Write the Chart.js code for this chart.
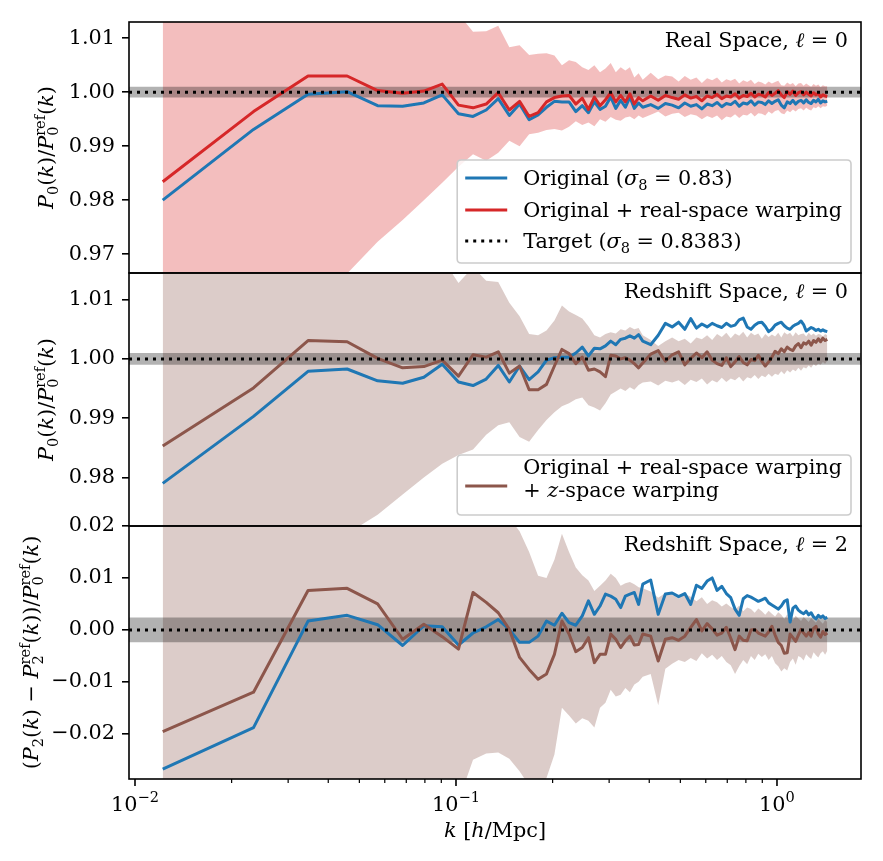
<!DOCTYPE html>
<html><head><meta charset="utf-8">
<script src="https://cdn.jsdelivr.net/npm/chart.js@4/dist/chart.umd.min.js"></script>
<style>
html,body{margin:0;padding:0;background:#fff;}
#wrap{position:relative;width:883px;height:861px;background:#fff;}
#wrap canvas{position:absolute;left:0;top:0;}
</style></head><body>
<div id="wrap">
<canvas id="c1" width="883" height="861"></canvas>
<canvas id="c2" width="883" height="861"></canvas>
<canvas id="c3" width="883" height="861"></canvas>
</div>
<script>
// ---------------- data ----------------
const K_BINS = [
0.0122,0.0234,0.0346,0.0458,0.0570,0.0682,0.0794,0.0906,0.1018,0.1130,
0.1242,0.1354,0.1466,0.1578,0.1690,0.1802,0.1914,0.2026,0.2138,0.2250,
0.2362,0.2474,0.2586,0.2698,0.2810,0.2922,0.3034,0.3146,0.3258,0.3370,
0.3482,0.3594,0.3706,0.3818,
0.4042,0.4266,0.4490,0.4714,0.4938,0.5162,0.5386,0.5610,0.5834,0.6058,
0.6282,0.6506,0.6730,0.6954,0.7178,0.7402,0.7626,0.7850,0.8074,0.8298,
0.8522,0.8746,0.8970,0.9194,0.9418,0.9642,0.9866,1.0090,1.0314,1.0538,
1.0762,1.0986,1.1210,1.1434,1.1658,1.1882,1.2106,1.2330,1.2554,1.2778,
1.3002,1.3226,1.3450,1.3674,1.3898,1.4122,1.4346];

// Panel 1: real space, monopole ratio
const P1_ORIG = [
0.9800,0.9931,0.9996,1.0001,0.9975,0.9974,0.9980,0.9995,0.9960,0.9955,
0.9967,0.9988,0.9957,0.9978,0.9949,0.9958,0.9972,0.9983,0.9982,0.9982,
0.9964,0.9975,0.9962,0.9982,0.9968,0.9974,0.9991,0.9970,0.9985,0.9972,
0.9991,0.9970,0.9980,0.9972,
0.9977,0.9970,0.9979,0.9976,0.9971,0.9980,0.9974,0.9977,0.9969,0.9978,
0.9975,0.9981,0.9973,0.9979,0.9977,0.9983,0.9974,0.9980,0.9978,0.9984,
0.9976,0.9982,0.9981,0.9977,0.9984,0.9979,0.9983,0.9986,0.9976,0.9971,
0.9982,0.9979,0.9985,0.9978,0.9983,0.9985,0.9980,0.9986,0.9981,0.9979,
0.9985,0.9982,0.9987,0.9980,0.9984,0.9982,0.9983];
const P1_WARP = [
0.9834,0.9964,1.0030,1.0030,1.0003,0.9998,1.0002,1.0015,0.9976,0.9971,
0.9978,0.9999,0.9967,0.9983,0.9955,0.9962,0.9982,0.9990,0.9993,0.9994,
0.9978,0.9989,0.9968,0.9991,0.9975,0.9986,0.9999,0.9982,0.9994,0.9982,
0.9997,0.9978,0.9990,0.9984,
0.9993,0.9985,0.9994,0.9990,0.9987,0.9995,0.9989,0.9992,0.9984,0.9993,
0.9990,0.9996,0.9988,0.9993,0.9991,0.9997,0.9989,0.9994,0.9992,0.9998,
0.9991,0.9996,0.9995,0.9991,0.9999,0.9994,0.9998,1.0003,0.9995,0.9990,
1.0001,0.9996,1.0002,0.9994,0.9999,1.0001,0.9995,1.0000,0.9996,0.9993,
0.9999,0.9995,0.9998,0.9991,0.9995,0.9993,0.9992];
const P1_ERR_HI = [
1.060,1.050,1.040,1.035,1.030,1.025,1.022,1.018,1.0145,1.0112,
1.0113,1.0123,1.0083,1.0087,1.0069,1.0071,1.0072,1.0068,1.0050,1.0059,
1.0056,1.0046,1.0041,1.0050,1.0037,1.0044,1.0054,1.0037,1.0046,1.0040,
1.0046,1.0027,1.0035,1.0023,
1.0036,1.0024,1.0031,1.0029,1.0020,1.0030,1.0023,1.0027,1.0017,1.0026,
1.0022,1.0027,1.0018,1.0024,1.0021,1.0025,1.0016,1.0022,1.0019,1.0023,
1.0015,1.0020,1.0018,1.0014,1.0020,1.0016,1.0019,1.0021,1.0013,1.0012,
1.0018,1.0014,1.0017,1.0011,1.0016,1.0017,1.0012,1.0016,1.0013,1.0010,
1.0015,1.0012,1.0014,1.0009,1.0013,1.0011,1.0011];
const P1_ERR_LO = [
0.930,0.945,0.958,0.9664,0.9723,0.9763,0.9800,0.9832,0.9862,0.9885,
0.9873,0.9888,0.9910,0.9900,0.9922,0.9925,0.9930,0.9932,0.9929,0.9936,
0.9946,0.9939,0.9944,0.9937,0.9950,0.9945,0.9954,0.9949,0.9947,0.9953,
0.9955,0.9950,0.9957,0.9952,
0.9958,0.9964,0.9955,0.9960,0.9962,0.9954,0.9959,0.9957,0.9950,0.9956,
0.9952,0.9957,0.9948,0.9955,0.9953,0.9959,0.9952,0.9958,0.9957,0.9962,
0.9955,0.9961,0.9960,0.9957,0.9964,0.9960,0.9965,0.9967,0.9961,0.9959,
0.9966,0.9963,0.9968,0.9964,0.9969,0.9970,0.9966,0.9971,0.9968,0.9966,
0.9972,0.9970,0.9974,0.9970,0.9974,0.9973,0.9975];

// Panel 2: redshift space, monopole ratio
const P2_ORIG = [
0.9790,0.9903,0.9979,0.9983,0.9963,0.9959,0.9969,0.9991,0.9961,0.9955,
0.9966,0.9989,0.9961,0.9988,0.9965,0.9978,0.9998,1.0002,1.0003,1.0003,
1.0010,1.0020,1.0005,1.0018,1.0017,1.0022,1.0030,1.0024,1.0033,1.0035,
1.0039,1.0035,1.0041,1.0030,
1.0024,1.0040,1.0060,1.0054,1.0062,1.0050,1.0068,1.0052,1.0059,1.0054,
1.0060,1.0056,1.0053,1.0060,1.0055,1.0057,1.0066,1.0069,1.0054,1.0050,
1.0057,1.0061,1.0062,1.0055,1.0046,1.0050,1.0057,1.0060,1.0062,1.0056,
1.0052,1.0050,1.0055,1.0058,1.0060,1.0064,1.0058,1.0047,1.0050,1.0053,
1.0051,1.0048,1.0050,1.0047,1.0049,1.0047,1.0046];
const P2_WARP = [
0.9853,0.9951,1.0031,1.0029,1.0001,0.9985,0.9987,0.9998,0.9971,1.0007,
1.0003,1.0012,0.9976,0.9988,0.9948,0.9948,0.9957,0.9988,1.0016,1.0009,
0.9992,1.0003,0.9981,0.9983,0.9978,0.9970,1.0006,1.0005,1.0000,1.0002,
0.9998,0.9992,0.9985,0.9993,
1.0008,1.0014,0.9996,1.0007,1.0012,0.9990,1.0001,1.0010,1.0002,1.0012,
0.9998,0.9992,0.9989,1.0002,0.9987,0.9995,1.0004,0.9994,0.9990,0.9999,
0.9997,1.0006,0.9996,0.9988,0.9995,1.0003,1.0013,1.0009,1.0017,1.0012,
1.0020,1.0016,1.0014,1.0022,1.0026,1.0019,1.0027,1.0025,1.0030,1.0023,
1.0031,1.0028,1.0034,1.0029,1.0035,1.0031,1.0033];
const P2_ERR_HI = [
1.060,1.050,1.040,1.035,1.030,1.025,1.020,1.017,1.0128,1.0155,
1.0132,1.0130,1.0095,1.0072,1.0042,1.0040,1.0048,1.0065,1.0090,1.0080,
1.0074,1.0068,1.0055,1.0040,1.0036,1.0042,1.0045,1.0043,1.0050,1.0048,
1.0054,1.0050,1.0052,1.0040,
1.0032,1.0022,1.0030,1.0036,1.0030,1.0034,1.0026,1.0036,1.0033,1.0040,
1.0032,1.0042,1.0037,1.0044,1.0035,1.0043,1.0039,1.0046,1.0036,1.0044,
1.0040,1.0043,1.0034,1.0042,1.0037,1.0041,1.0038,1.0044,1.0036,1.0045,
1.0041,1.0044,1.0038,1.0045,1.0040,1.0042,1.0043,1.0038,1.0044,1.0040,
1.0043,1.0039,1.0042,1.0041,1.0038,1.0042,1.0040];
const P2_ERR_LO = [
0.930,0.950,0.960,0.9705,0.9737,0.9771,0.9800,0.9823,0.9838,0.9847,
0.9872,0.9888,0.9893,0.9868,0.9860,0.9880,0.9897,0.9910,0.9920,0.9925,
0.9932,0.9935,0.9922,0.9918,0.9913,0.9925,0.9940,0.9945,0.9950,0.9946,
0.9952,0.9948,0.9956,0.9960,
0.9962,0.9955,0.9963,0.9960,0.9964,0.9956,0.9965,0.9961,0.9967,0.9957,
0.9964,0.9960,0.9968,0.9961,0.9967,0.9964,0.9970,0.9962,0.9969,0.9967,
0.9973,0.9966,0.9972,0.9969,0.9975,0.9970,0.9975,0.9973,0.9979,0.9974,
0.9981,0.9977,0.9982,0.9979,0.9985,0.9980,0.9986,0.9984,0.9989,0.9985,
0.9991,0.9988,0.9992,0.9990,0.9995,0.9992,0.9997];

// Panel 3: redshift space, quadrupole difference
const P3_ORIG = [
-0.0268,-0.0188,0.0017,0.0028,0.0010,-0.0030,0.0008,0.0006,-0.0029,-0.0006,
0.0006,0.0020,0.0001,-0.0024,-0.0024,-0.0012,0.0017,0.0009,0.0032,0.0014,
0.0009,0.0027,0.0056,0.0030,0.0046,0.0069,0.0065,0.0059,0.0043,0.0065,
0.0069,0.0072,0.0049,0.0088,
0.0096,0.0030,0.0069,0.0071,0.0064,0.0070,0.0049,0.0086,0.0080,0.0094,
0.0100,0.0076,0.0084,0.0070,0.0062,0.0040,0.0028,0.0060,0.0066,0.0063,
0.0059,0.0055,0.0058,0.0061,0.0052,0.0048,0.0044,0.0040,0.0046,0.0055,
0.0058,0.0015,0.0042,0.0046,0.0038,0.0034,0.0031,0.0036,0.0029,0.0033,
0.0025,0.0021,0.0028,0.0024,0.0027,0.0022,0.0024];
const P3_WARP = [
-0.0196,-0.0120,0.0076,0.0080,0.0050,-0.0018,0.0011,-0.0013,-0.0037,0.0072,
0.0053,0.0033,0.0001,-0.0053,-0.0076,-0.0095,-0.0085,-0.0047,0.0017,-0.0008,
-0.0042,-0.0034,-0.0015,-0.0063,-0.0047,-0.0047,-0.0008,-0.0018,-0.0034,-0.0021,
-0.0012,-0.0029,-0.0028,-0.0008,
-0.0012,-0.0060,-0.0018,-0.0015,-0.0020,-0.0012,0.0005,0.0020,-0.0002,0.0012,
0.0002,-0.0010,-0.0006,0.0005,-0.0016,-0.0038,-0.0012,-0.0020,-0.0021,0.0000,
0.0001,-0.0006,-0.0009,-0.0012,-0.0004,0.0007,-0.0010,-0.0024,-0.0030,-0.0045,
-0.0044,-0.0008,-0.0015,-0.0022,-0.0010,0.0001,-0.0006,-0.0012,-0.0005,-0.0012,
0.0003,0.0007,-0.0008,-0.0014,-0.0003,-0.0009,-0.0006];
const P3_ERR_HI = [
0.060,0.050,0.045,0.040,0.035,0.032,0.030,0.028,0.027,0.026,
0.025,0.024,0.0215,0.0190,0.0150,0.0104,0.0100,0.0135,0.0185,0.0150,
0.0120,0.0105,0.0095,0.0075,0.0085,0.0095,0.0108,0.0100,0.0085,0.0090,
0.0092,0.0088,0.0082,0.0080,
0.0074,0.0062,0.0071,0.0068,0.0060,0.0069,0.0064,0.0055,0.0063,0.0050,
0.0057,0.0053,0.0045,0.0051,0.0044,0.0039,0.0047,0.0036,0.0043,0.0040,
0.0033,0.0041,0.0036,0.0029,0.0037,0.0031,0.0026,0.0034,0.0029,0.0021,
0.0030,0.0025,0.0019,0.0027,0.0022,0.0017,0.0025,0.0020,0.0015,0.0023,
0.0018,0.0014,0.0021,0.0016,0.0012,0.0019,0.0015];
const P3_ERR_LO = [
-0.070,-0.060,-0.050,-0.045,-0.040,-0.037,-0.034,-0.032,-0.033,-0.0250,
-0.0238,-0.0236,-0.0248,-0.0272,-0.0300,-0.0300,-0.0285,-0.0240,-0.0150,-0.0165,
-0.0180,-0.0170,-0.0175,-0.0188,-0.0150,-0.0140,-0.0115,-0.0128,-0.0125,-0.0112,
-0.0120,-0.0105,-0.0100,-0.0090,
-0.0085,-0.0145,-0.0075,-0.0065,-0.0058,-0.0062,-0.0054,-0.0060,-0.0045,-0.0055,
-0.0048,-0.0058,-0.0050,-0.0062,-0.0068,-0.0085,-0.0070,-0.0058,-0.0066,-0.0050,
-0.0058,-0.0046,-0.0052,-0.0047,-0.0058,-0.0050,-0.0064,-0.0070,-0.0080,-0.0074,
-0.0078,-0.0062,-0.0055,-0.0067,-0.0050,-0.0053,-0.0059,-0.0047,-0.0052,-0.0056,
-0.0043,-0.0049,-0.0053,-0.0045,-0.0041,-0.0048,-0.0040];

const TARGET_P0 = 1.0, TARGET_P2 = 0.0;
const TOL_P0 = 0.001, TOL_P2 = 0.0024;
const X_MIN = 0.009579, X_MAX = 1.827;
const Y1_RANGE = [0.9665, 1.0130];
const Y2_RANGE = [0.9718, 1.0145];
const Y3_RANGE = [-0.0287, 0.0200];
const Y1_TICKS = [0.97, 0.98, 0.99, 1.00, 1.01];
const Y2_TICKS = [0.98, 0.99, 1.00, 1.01];
const Y3_TICKS = [-0.02, -0.01, 0.00, 0.01, 0.02];
const X_MAJOR = [0.01, 0.1, 1];
const X_MINOR = [0.02,0.03,0.04,0.05,0.06,0.07,0.08,0.09,0.2,0.3,0.4,0.5,0.6,0.7,0.8,0.9];

// ---------------- styling ----------------
const BLUE = '#1f77b4', RED = '#d62728', BROWN = '#8c564b';
const SERIF = '"DejaVu Serif", serif';
const FS = 20.8;
Chart.defaults.font.family = SERIF;
Chart.defaults.font.size = FS;
Chart.defaults.color = '#000';

function fontStr(size, it){ return (it ? 'italic ' : '') + size + 'px ' + SERIF; }
function segWidth(ctx, seg, size){
  if (typeof seg === 'string'){ ctx.font = fontStr(size,false); return ctx.measureText(seg).width; }
  if (seg.t !== undefined){ ctx.font = fontStr(size, seg.it); return ctx.measureText(seg.t).width; }
  ctx.font = fontStr(size*0.7, false);
  return Math.max(seg.lo ? ctx.measureText(seg.lo).width : 0, seg.hi ? ctx.measureText(seg.hi).width : 0);
}
function richWidth(ctx, segs, size){ return segs.reduce((w,s)=>w+segWidth(ctx,s,size),0); }
function drawRich(ctx, segs, x, base, size, align){
  const w = richWidth(ctx, segs, size);
  let cx = align==='center' ? x - w/2 : (align==='right' ? x - w : x);
  ctx.textAlign = 'left'; ctx.textBaseline = 'alphabetic';
  for (const seg of segs){
    const sw = segWidth(ctx, seg, size);
    if (typeof seg === 'string'){ ctx.font = fontStr(size,false); ctx.fillText(seg, cx, base); }
    else if (seg.t !== undefined){ ctx.font = fontStr(size, seg.it); ctx.fillText(seg.t, cx, base); }
    else {
      ctx.font = fontStr(size*0.7, false);
      if (seg.lo) ctx.fillText(seg.lo, cx, base + size*0.22);
      if (seg.hi) ctx.fillText(seg.hi, cx, base - size*0.42);
    }
    cx += sw;
  }
}

const Y_LABEL_P0 = [{t:'P',it:true},{lo:'0'},'(',{t:'k',it:true},')/',{t:'P',it:true},{lo:'0',hi:'ref'},'(',{t:'k',it:true},')'];
const Y_LABEL_P2 = ['(',{t:'P',it:true},{lo:'2'},'(',{t:'k',it:true},') \u2212 ',{t:'P',it:true},{lo:'2',hi:'ref'},'(',{t:'k',it:true},'))/',{t:'P',it:true},{lo:'0',hi:'ref'},'(',{t:'k',it:true},')'];
const X_LABEL = [{t:'k',it:true},' [',{t:'h',it:true},'/Mpc]'];

function pts(arr){ return K_BINS.map((k,i)=>({x:k, y:arr[i]})); }
function hline(y){ return [{x:X_MIN, y:y},{x:X_MAX, y:y}]; }
const NONE = 'rgba(0,0,0,0)';

function panelDatasets(c){
  return [
    {label:'band_hi', data:pts(c.hi), borderColor:NONE, borderWidth:0, pointRadius:0, fill:'+1', backgroundColor:c.band, order:50},
    {label:'band_lo', data:pts(c.lo), borderColor:NONE, borderWidth:0, pointRadius:0, fill:false, order:50},
    {label:'tol_hi', data:hline(c.target+c.tol), borderColor:NONE, borderWidth:0, pointRadius:0, fill:'+1', backgroundColor:'rgba(0,0,0,0.3)', order:40},
    {label:'tol_lo', data:hline(c.target-c.tol), borderColor:NONE, borderWidth:0, pointRadius:0, fill:false, order:40},
    {label:'Original', data:pts(c.orig), borderColor:BLUE, borderWidth:3, pointRadius:0, fill:false, order:30, borderJoinStyle:'round'},
    {label:c.warpLabel, data:pts(c.warp), borderColor:c.warpColor, borderWidth:3, pointRadius:0, fill:false, order:20, borderJoinStyle:'round'},
    {label:'Target', data:hline(c.target), borderColor:'#000', borderWidth:3, borderDash:[3,5], pointRadius:0, fill:false, order:10}
  ];
}

function roundRect(ctx, x, y, w, h, r){
  ctx.beginPath();
  ctx.moveTo(x+r,y); ctx.lineTo(x+w-r,y); ctx.quadraticCurveTo(x+w,y,x+w,y+r);
  ctx.lineTo(x+w,y+h-r); ctx.quadraticCurveTo(x+w,y+h,x+w-r,y+h);
  ctx.lineTo(x+r,y+h); ctx.quadraticCurveTo(x,y+h,x,y+h-r);
  ctx.lineTo(x,y+r); ctx.quadraticCurveTo(x,y,x+r,y); ctx.closePath();
}

function drawLegend(chart, L){
  const ctx = chart.ctx, a = chart.chartArea;
  let maxW = 0;
  L.rows.forEach(r => r.lines.forEach(l => { maxW = Math.max(maxW, richWidth(ctx, l, FS)); }));
  const right = a.right - 10, bottom = a.bottom - L.gapBottom;
  const w = 8 + 42 + 16 + maxW + 9;
  const left = right - w, top = bottom - L.height;
  ctx.save();
  roundRect(ctx, left, top, w, L.height, 4);
  ctx.fillStyle = 'rgba(255,255,255,0.8)'; ctx.fill();
  ctx.strokeStyle = '#cccccc'; ctx.lineWidth = 1.6; ctx.stroke();
  L.rows.forEach(r => {
    const ds = chart.data.datasets[r.ds];
    ctx.strokeStyle = ds.borderColor; ctx.lineWidth = ds.borderWidth;
    ctx.setLineDash(ds.borderDash || []);
    ctx.beginPath(); ctx.moveTo(left+8, top+r.handleY); ctx.lineTo(left+50, top+r.handleY); ctx.stroke();
    ctx.setLineDash([]);
    ctx.fillStyle = '#000';
    r.lines.forEach((l,i) => drawRich(ctx, l, left+66, top+r.base[i], FS, 'left'));
  });
  ctx.restore();
}

const DECO = {};
const decoPlugin = {
  id: 'panelDeco',
  afterDatasetsDraw(chart){
    const o = DECO[chart.canvas.id];
    if (!o) return;
    const ctx = chart.ctx, a = chart.chartArea;
    ctx.save();
    if (o.legend) drawLegend(chart, o.legend);
    ctx.fillStyle = '#000';
    drawRich(ctx, o.note, a.right - 13, a.top + 25, FS, 'right');
    ctx.setLineDash([]);
    ctx.strokeStyle = '#000'; ctx.lineWidth = 1.6;
    ctx.strokeRect(a.left, a.top, a.right - a.left, a.bottom - a.top);
    ctx.save();
    ctx.translate(o.yLabelX, (a.top + a.bottom)/2);
    ctx.rotate(-Math.PI/2);
    drawRich(ctx, o.yLabel, 0, FS*0.3, FS, 'center');
    ctx.restore();
    if (o.bottom){
      const xs = chart.scales.x;
      X_MINOR.forEach(v => {
        const px = xs.getPixelForValue(v);
        ctx.lineWidth = 1.2; ctx.beginPath(); ctx.moveTo(px, a.bottom); ctx.lineTo(px, a.bottom+4); ctx.stroke();
      });
      X_MAJOR.forEach(v => {
        const px = xs.getPixelForValue(v);
        ctx.lineWidth = 1.6; ctx.beginPath(); ctx.moveTo(px, a.bottom); ctx.lineTo(px, a.bottom+7); ctx.stroke();
        const e = Math.round(Math.log10(v));
        const es = e < 0 ? '\u2212' + Math.abs(e) : String(e);
        drawRich(ctx, ['10', {hi: es}], px, a.bottom + 32, FS, 'center');
      });
      drawRich(ctx, X_LABEL, (a.left + a.right)/2, a.bottom + 58, FS, 'center');
    }
    ctx.restore();
  }
};

function fmt(v){ return v < -1e-9 ? '\u2212' + Math.abs(v).toFixed(2) : Math.abs(v).toFixed(2); }

function makeChart(id, datasets, yRange, yTicks, pad, deco, bottom){
  DECO[id] = Object.assign({bottom}, deco);
  return new Chart(document.getElementById(id), {
    type: 'line',
    data: { datasets },
    options: {
      responsive: false, animation: false, events: [],
      layout: { padding: { left: 0, right: 22, top: pad[0], bottom: pad[1] } },
      plugins: { legend: { display: false }, tooltip: { enabled: false } },
      scales: {
        x: { type: 'logarithmic', min: X_MIN, max: X_MAX, display: bottom,
             grid: { display: false }, border: { display: false }, ticks: { display: false },
             afterFit: s => { s.height = bottom ? 82 : 0; } },
        y: { type: 'linear', min: yRange[0], max: yRange[1],
             afterBuildTicks: s => { s.ticks = yTicks.map(v => ({ value: v })); },
             afterFit: s => { s.width = 129; },
             grid: { drawOnChartArea: false, drawTicks: true, tickLength: 7, tickWidth: 1.6, tickColor: '#000', color: '#000', lineWidth: 1.6 },
             border: { display: false },
             ticks: { padding: 7, color: '#000', autoSkip: false, font: { family: SERIF, size: FS }, callback: v => fmt(v) } }
      }
    },
    plugins: [decoPlugin]
  });
}

makeChart('c1', panelDatasets({hi:P1_ERR_HI, lo:P1_ERR_LO, band:'rgba(214,39,40,0.3)', target:TARGET_P0, tol:TOL_P0,
  orig:P1_ORIG, warp:P1_WARP, warpColor:RED, warpLabel:'Original + real-space warping'}),
  Y1_RANGE, Y1_TICKS, [22, 588], {
    note: ['Real Space, ', {t:'\u2113', it:true}, ' = 0'],
    yLabel: Y_LABEL_P0, yLabelX: 47,
    legend: { gapBottom: 10, height: 103, rows: [
      { ds: 4, handleY: 18, base: [25], lines: [['Original (', {t:'\u03c3', it:true}, {lo:'8'}, ' = 0.83)']] },
      { ds: 5, handleY: 50, base: [57], lines: [['Original + real-space warping']] },
      { ds: 6, handleY: 81, base: [88], lines: [['Target (', {t:'\u03c3', it:true}, {lo:'8'}, ' = 0.8383)']] }
    ]}
  }, false);

makeChart('c2', panelDatasets({hi:P2_ERR_HI, lo:P2_ERR_LO, band:'rgba(140,86,75,0.3)', target:TARGET_P0, tol:TOL_P0,
  orig:P2_ORIG, warp:P2_WARP, warpColor:BROWN, warpLabel:'Original + real-space warping + z-space warping'}),
  Y2_RANGE, Y2_TICKS, [273, 335], {
    note: ['Redshift Space, ', {t:'\u2113', it:true}, ' = 0'],
    yLabel: Y_LABEL_P0, yLabelX: 47,
    legend: { gapBottom: 11, height: 60, rows: [
      { ds: 5, handleY: 31, base: [19, 42], lines: [['Original + real-space warping'], ['+ ', {t:'z', it:true}, '-space warping']] }
    ]}
  }, false);

makeChart('c3', panelDatasets({hi:P3_ERR_HI, lo:P3_ERR_LO, band:'rgba(140,86,75,0.3)', target:TARGET_P2, tol:TOL_P2,
  orig:P3_ORIG, warp:P3_WARP, warpColor:BROWN, warpLabel:'Original + real-space warping + z-space warping'}),
  Y3_RANGE, Y3_TICKS, [526, 0], {
    note: ['Redshift Space, ', {t:'\u2113', it:true}, ' = 2'],
    yLabel: Y_LABEL_P2, yLabelX: 32
  }, true);
</script>
</body></html>
